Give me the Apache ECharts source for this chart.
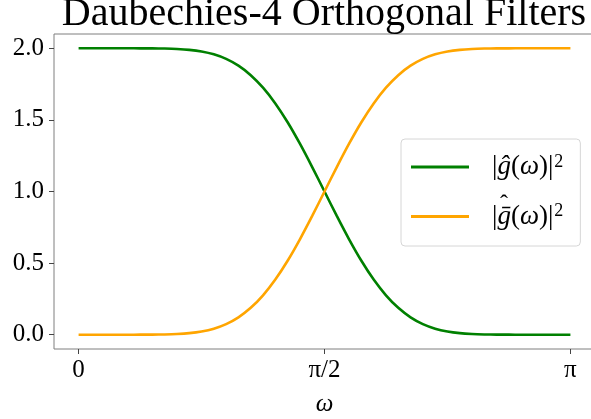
<!DOCTYPE html>
<html>
<head>
<meta charset="utf-8">
<script src="https://cdn.jsdelivr.net/npm/echarts@6/dist/echarts.min.js"></script>
<style>
  html, body { margin: 0; padding: 0; background: #fff; }
  #main { width: 591px; height: 419px; }
</style>
</head>
<body>
<div id="main"></div>
<script>
// omega as a fraction of pi
var omega = [0, 0.025, 0.05, 0.075, 0.1, 0.125, 0.15, 0.175, 0.2, 0.225,
  0.25, 0.275, 0.3, 0.325, 0.35, 0.375, 0.4, 0.425, 0.45, 0.475,
  0.5, 0.525, 0.55, 0.575, 0.6, 0.625, 0.65, 0.675, 0.7, 0.725,
  0.75, 0.775, 0.8, 0.825, 0.85, 0.875, 0.9, 0.925, 0.95, 0.975, 1];

// |g(w)|^2, low pass (green)
var lowPass = [2, 2, 2, 2, 2, 1.9999, 1.9995, 1.9983, 1.9954, 1.9894,
  1.9778, 1.9579, 1.9261, 1.8787, 1.8125, 1.7249, 1.615, 1.4837, 1.3339, 1.1706,
  1.0, 0.8294, 0.6661, 0.5163, 0.385, 0.2751, 0.1875, 0.1213, 0.0739, 0.0421,
  0.0222, 0.0106, 0.0046, 0.0017, 0.0005, 0.0001, 0, 0, 0, 0, 0];

// high pass (orange)
var highPass = [0, 0, 0, 0, 0, 0.0001, 0.0005, 0.0017, 0.0046, 0.0106,
  0.0222, 0.0421, 0.0739, 0.1213, 0.1875, 0.2751, 0.385, 0.5163, 0.6661, 0.8294,
  1.0, 1.1706, 1.3339, 1.4837, 1.615, 1.7249, 1.8125, 1.8787, 1.9261, 1.9579,
  1.9778, 1.9894, 1.9954, 1.9983, 1.9995, 1.9999, 2, 2, 2, 2, 2];

var xTicks = [0, 0.5, 1];
var xTickLabels = ['0', 'π/2', 'π'];
var yTicks = [0, 0.5, 1, 1.5, 2];

var serif = '"Liberation Serif", "DejaVu Serif", serif';
var spine = '#7f7f7f';

function pairs(xs, ys) {
  return xs.map(function (x, i) { return [x, ys[i]]; });
}

var myChart = echarts.init(document.getElementById('main'));

var legendRich = {
  i: { fontFamily: serif, fontSize: 27, fontStyle: 'italic', color: '#000' },
  s: { fontFamily: serif, fontSize: 18, color: '#000', verticalAlign: 'top', padding: [0, 0, 10, 1] }
};

var option = {
  animation: false,
  backgroundColor: '#fff',
  title: {
    text: 'Daubechies-4 Orthogonal Filters',
    left: 324,
    top: -6,
    padding: 0,
    textAlign: 'center',
    textStyle: { fontFamily: serif, fontSize: 40, fontWeight: 'normal', color: '#000' }
  },
  grid: {
    left: 54, top: 34, width: 541, height: 315,
    outerBoundsMode: 'none',
    containLabel: false,
    show: true, borderColor: spine, borderWidth: 1, backgroundColor: 'transparent'
  },
  legend: {
    orient: 'vertical',
    left: 401, top: 139,
    padding: [14, 17, 16, 10],
    itemGap: 22,
    itemWidth: 58, itemHeight: 3,
    icon: 'rect',
    backgroundColor: 'rgba(255,255,255,0.8)',
    borderColor: '#d6d6d6', borderWidth: 1, borderRadius: 4,
    data: ['low', 'high'],
    formatter: function (name) {
      return name === 'low'
        ? '|{i|g\u0302}({i|ω})|{s|2}'
        : '|{i|g\u0304}({i|ω})|{s|2}';
    },
    textStyle: {
      fontFamily: serif, fontSize: 27, color: '#000', padding: [0, 0, 0, 18],
      rich: legendRich
    }
  },
  // outer hat of the second legend label
  graphic: [{
    type: 'text', left: 500, top: 193, z: 100,
    style: { text: 'ˆ', fontFamily: serif, fontSize: 24, fill: '#000' }
  }],
  xAxis: {
    type: 'value',
    min: -0.05, max: 1.05,
    name: 'ω',
    nameLocation: 'middle',
    nameGap: 43,
    nameTextStyle: { fontFamily: serif, fontSize: 25, fontStyle: 'italic', color: '#000' },
    splitLine: { show: false },
    axisLine: { show: false, onZero: false },
    axisTick: { show: true, length: 5, customValues: xTicks, lineStyle: { color: '#444' } },
    axisLabel: {
      customValues: xTicks, margin: 9,
      fontFamily: serif, fontSize: 25, color: '#000',
      formatter: function (v) { return xTickLabels[xTicks.indexOf(v)]; }
    }
  },
  yAxis: {
    type: 'value',
    min: -0.1, max: 2.1,
    splitLine: { show: false },
    axisLine: { show: false, onZero: false },
    axisTick: { show: true, length: 5, customValues: yTicks, lineStyle: { color: '#444' } },
    axisLabel: {
      customValues: yTicks, margin: 10,
      fontFamily: serif, fontSize: 25, color: '#000',
      formatter: function (v) { return v.toFixed(1); }
    }
  },
  series: [
    {
      name: 'low', type: 'line', data: pairs(omega, lowPass),
      smooth: 0.3, showSymbol: false, color: '#008000',
      lineStyle: { width: 2.6, color: '#008000' }
    },
    {
      name: 'high', type: 'line', data: pairs(omega, highPass),
      smooth: 0.3, showSymbol: false, color: '#ffa500',
      lineStyle: { width: 2.6, color: '#ffa500' }
    }
  ]
};

myChart.setOption(option);
</script>
</body>
</html>
